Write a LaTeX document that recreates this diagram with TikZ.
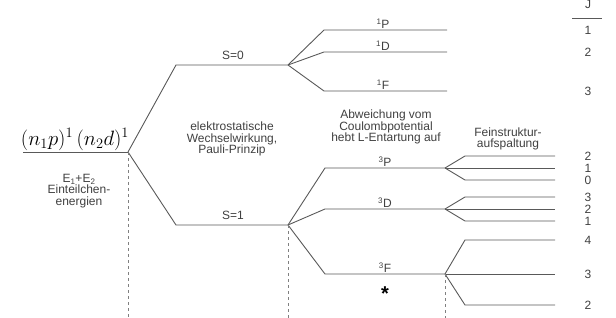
\documentclass[tikz,border=0pt]{standalone}
\usepackage{fontspec}
\setmainfont{Liberation Sans}
\begin{document}
\begin{tikzpicture}[x=1pt, y=-1pt,
    level/.style={draw=black!65, line width=0.9pt},
    guide/.style={draw=black!50, dashed, line width=0.6pt},
    every node/.style={text=black!75, font=\fontsize{12}{11.5}\selectfont},
    term/.style={above, inner sep=1pt},
    jnum/.style={inner sep=0pt},
    remark/.style={align=center, inner sep=0pt}]
  \useasboundingbox (0,0) rectangle (616,318);

  % 1. Konfiguration und Spin-Aufspaltung
  \coordinate (cfgL) at (23,152);
  \coordinate (cfg)  at (128,152);
  \coordinate (s0a)  at (176,65);  \coordinate (s0) at (288,65);
  \coordinate (s1a)  at (176,225); \coordinate (s1) at (288,225);

  \draw[level] (cfgL) -- (cfg);
  \draw[level] (cfg) -- (s0a) -- (s0);
  \draw[level] (cfg) -- (s1a) -- (s1);

  \node[anchor=south, inner sep=1.5pt, font=\fontsize{19.5}{20}\selectfont, text=black] (cfglab) at (75,152)
    {$(n_1p)^1\,(n_2d)^1$};
  \node[remark] (einteil) at (79,191) {E\textsubscript{1}+E\textsubscript{2}\\Einteilchen-\\energien};

  \node[above, inner sep=5pt] (s0lab) at (233,65) {S=0};
  \node[above, inner sep=5pt] (s1lab) at (233,225) {S=1};
  \node[remark] (elstat) at (232,139) {elektrostatische\\Wechselwirkung,\\Pauli-Prinzip};

  % 2. Singulett-Terme
  \foreach \name/\y/\j in {P/30/1, D/52/2, F/91/3} {
    \draw[level] (s0) -- (324,\y) coordinate (sing\name) -- (447,\y);
    \node[term] (lab1\name) at (383,\y) {\textsuperscript{1}\name};
    \node[jnum] (j1\name) at (588,\y) {\j};
  }

  % 3. Triplett-Terme mit Feinstruktur
  \foreach \name/\y/\yu/\yl/\ja/\jb/\jc in {P/168/156/180/2/1/0, D/209/197/221/3/2/1, F/274/240/305/4/3/2} {
    \coordinate (trip\name) at (445,\y);
    \draw[level] (s1) -- (325,\y) -- (trip\name);
    \node[term] (lab3\name) at (385,\y) {\textsuperscript{3}\name};
    \draw[level] (trip\name) -- (465,\yu) -- (555,\yu);
    \draw[level] (trip\name) -- (555,\y);
    \draw[level] (trip\name) -- (465,\yl) -- (555,\yl);
    \node[jnum] (ja\name) at (588,\yu) {\ja};
    \node[jnum] (jb\name) at (588,\y) {\jb};
    \node[jnum] (jc\name) at (588,\yl) {\jc};
  }
  \node[remark] (coul) at (386,127) {Abweichung vom\\Coulombpotential\\hebt L-Entartung auf};
  \node[remark] (fein) at (508,139) {Feinstruktur-\\aufspaltung};
  \node[text=black, font=\fontsize{20}{20}\selectfont\bfseries] (star) at (385,294) {*};

  % 4. J-Spalte
  \node[jnum] (jhead) at (588,4) {J};
  \draw[draw=black!65, line width=0.9pt] (572,18) -- (602,18);

  % 5. Hilfslinien nach unten
  \draw[guide] (cfg) -- (128,318);
  \draw[guide] (s1) -- (288,318);
  \draw[guide] (tripF) -- (445,318);
\end{tikzpicture}
\end{document}
